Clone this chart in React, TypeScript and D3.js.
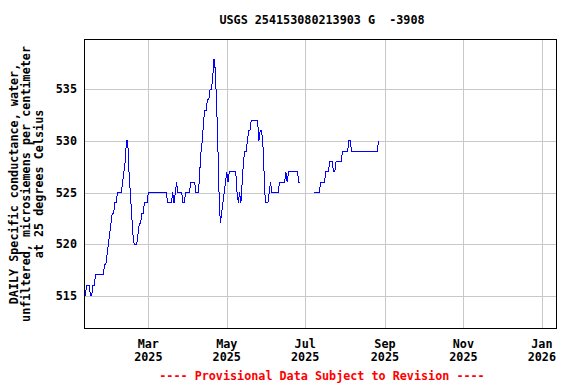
import * as d3 from 'd3';

const title = 'USGS 254153080213903 G  -3908';
const yLabelLines = [
  'DAILY Specific conductance, water,',
  'unfiltered, microsiemens per centimeter',
  'at 25 degrees Celsius',
];
const footer = '---- Provisional Data Subject to Revision ----';

// daily values, first record 2025-01-10
const seg1Start = new Date(2025, 0, 10);
const seg1Values = [
  516, 515, 516, 516, 516, 515, 515, 516, 516, 517,
  517, 517, 517, 517, 517, 517,
  518, 518, 519, 520, 521, 522, 523, 523, 524, 524, 525, 525, 525, 525,
  526, 527, 528, 530, 530, 527, 525, 523, 521, 520, 520, 520, 521, 522, 522, 523, 523, 524, 524, 524,
  525, 525, 525, 525, 525, 525, 525, 525, 525, 525, 525, 525, 525, 525, 525,
  524, 524, 524, 524, 525, 524, 525, 526,
  525, 525, 525, 525,
  524, 524,
  525, 525, 525, 525,
  526, 526, 526, 526,
  525, 525, 525,
  527, 529, 530, 532, 533, 533, 534, 534, 535, 535, 536, 538, 537, 534, 530, 525, 522, 523, 524, 525, 526, 527, 526,
  527, 527, 527, 527, 527, 527,
  525, 524, 525, 524, 526, 528, 529, 529, 530, 531, 531, 532,
  532, 532, 532, 532, 532,
  530, 531, 531, 530, 527, 524, 524, 524, 525, 526,
  525, 525, 525, 525, 525, 525,
  526, 526, 526, 526, 526,
  527, 526,
  527, 527, 527, 527, 527, 527, 527, 527,
  526, 526,
];

// second run of records after the gap, first record 2025-07-08
const seg2Start = new Date(2025, 6, 8);
const seg2Values = [
  525, 525, 525, 525, 525,
  526, 526, 526, 526,
  527, 527, 527,
  528, 528, 528,
  527, 527,
  528, 528, 528, 528, 528,
  529, 529, 529, 529, 529,
  530, 530,
  529, 529, 529, 529, 529, 529, 529, 529, 529, 529, 529, 529, 529, 529, 529, 529, 529, 529, 529, 529, 529,
  530,
];

const xTickDates = [
  new Date(2025, 2, 1),
  new Date(2025, 4, 1),
  new Date(2025, 6, 1),
  new Date(2025, 8, 1),
  new Date(2025, 10, 1),
  new Date(2026, 0, 1),
];
const yTicks = [515, 520, 525, 530, 535];

type Pt = { date: Date; value: number };
const toPoints = (start: Date, vals: number[]): Pt[] =>
  vals.map((v, i) => ({ date: d3.timeDay.offset(start, i), value: v }));

const segments = [toPoints(seg1Start, seg1Values), toPoints(seg2Start, seg2Values)];

export default function App() {
  const W = 576;
  const H = 384;
  const left = 84;
  const right = 556;
  const top = 39.5;
  const bottom = 328.5;

  const x = d3
    .scaleTime()
    .domain([new Date(2025, 0, 10), new Date(2026, 0, 12)])
    .range([left, right]);
  const y = d3.scaleLinear().domain([511.8, 539.85]).range([bottom, top]);

  const line = d3
    .line<Pt>()
    .x((d) => x(d.date))
    .y((d) => y(d.value));

  const font = "'DejaVu Sans Mono', monospace";
  const fmtMonth = d3.timeFormat('%b');
  const fmtYear = d3.timeFormat('%Y');

  return (
    <svg
      width={W}
      height={H}
      style={{ position: 'absolute', left: 0, top: 0, background: '#fff' }}
      fontFamily={font}
      fontWeight="bold"
      fontSize={11.75}
    >
      <rect x={0} y={0} width={W} height={H} fill="#fff" />
      {xTickDates.map((d, i) => (
        <line
          key={'gx' + i}
          x1={Math.round(x(d)) + 0.5}
          x2={Math.round(x(d)) + 0.5}
          y1={top}
          y2={bottom}
          stroke="#c8c8c8"
          shapeRendering="crispEdges"
        />
      ))}
      {yTicks.map((t) => (
        <line
          key={'gy' + t}
          x1={left}
          x2={right}
          y1={Math.round(y(t)) + 0.5}
          y2={Math.round(y(t)) + 0.5}
          stroke="#c8c8c8"
          shapeRendering="crispEdges"
        />
      ))}
      {segments.map((s, i) => (
        <path
          key={'s' + i}
          d={line(s) ?? ''}
          fill="none"
          stroke="#0000ff"
          strokeWidth={1}
          shapeRendering="crispEdges"
        />
      ))}
      <rect
        x={left + 0.5}
        y={top}
        width={right - left}
        height={bottom - top}
        fill="none"
        stroke="#000"
        strokeWidth={1}
        shapeRendering="crispEdges"
      />
      <text x={322} y={24} textAnchor="middle" style={{ whiteSpace: 'pre' }}>
        {title}
      </text>
      {yTicks.map((t) => (
        <text key={'ty' + t} x={77} y={y(t) + 4} textAnchor="end">
          {t}
        </text>
      ))}
      {xTickDates.map((d, i) => (
        <g key={'tx' + i} textAnchor="middle">
          <text x={x(d)} y={348}>
            {fmtMonth(d)}
          </text>
          <text x={x(d)} y={361}>
            {fmtYear(d)}
          </text>
        </g>
      ))}
      {yLabelLines.map((l, i) => (
        <text
          key={'yl' + i}
          transform={`translate(${18 + i * 12.3},184) rotate(-90)`}
          textAnchor="middle"
        >
          {l}
        </text>
      ))}
      <text x={322} y={379.5} textAnchor="middle" fill="#ff0000" style={{ whiteSpace: 'pre' }}>
        {footer}
      </text>
    </svg>
  );
}
